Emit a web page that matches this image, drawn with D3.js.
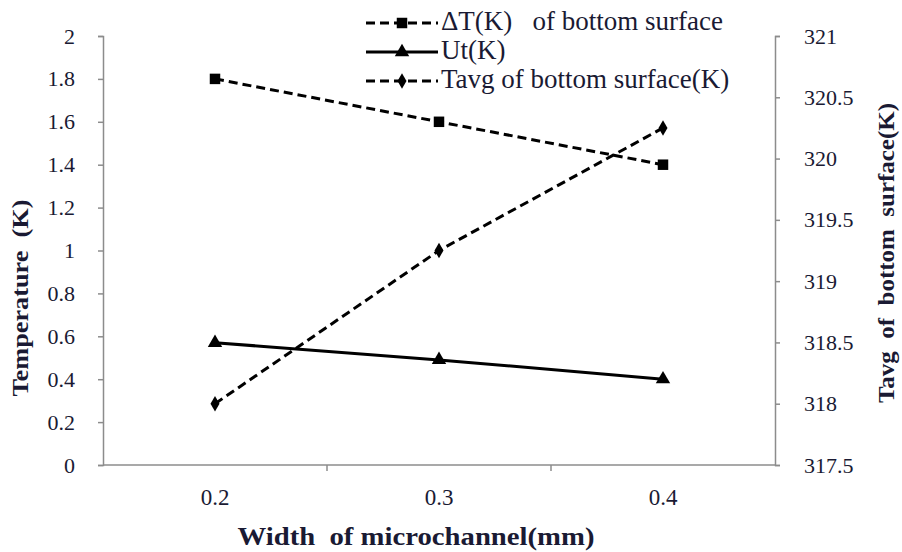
<!DOCTYPE html>
<html>
<head>
<meta charset="utf-8">
<script src="https://cdn.jsdelivr.net/npm/d3@7"></script>
<style>
  body { margin: 0; background: #fff; }
</style>
</head>
<body>
<div class="chart"></div>
<script>
// data
const widths = ['0.2', '0.3', '0.4'];
const deltaT = [1.8, 1.6, 1.4];
const ut = [0.57, 0.49, 0.40];
const tavg = [318.0, 319.25, 320.25];
const leftTicks = [0, 0.2, 0.4, 0.6, 0.8, 1, 1.2, 1.4, 1.6, 1.8, 2];
const rightTicks = [317.5, 318, 318.5, 319, 319.5, 320, 320.5, 321];

const width = 902;
const height = 552;
const plot = { left: 103, right: 775, top: 36, bottom: 465 };
const axisColor = '#8c8c8c';
const font = "'Liberation Serif', 'Times New Roman', serif";
const textColor = '#1a1a33';

const svg = d3.select('.chart').append('svg').attr('width', width).attr('height', height);

const xScale = d3.scaleBand().domain(widths).range([plot.left, plot.right]);
const yLeft = d3.scaleLinear().domain([0, 2]).range([plot.bottom, plot.top]);
const yRight = d3.scaleLinear().domain([317.5, 321]).range([plot.bottom, plot.top]);
const cx = (d) => xScale(d) + xScale.bandwidth() / 2;

const txt = (sel, size, bold) =>
  sel
    .attr('font-family', font)
    .attr('font-size', size)
    .attr('font-weight', bold ? 'bold' : 'normal')
    .attr('fill', textColor)
    .style('white-space', 'pre');

// axes
const styleAxis = (g) => {
  g.attr('font-family', font);
  g.select('.domain').attr('stroke', axisColor).attr('stroke-width', 1.5);
  g.selectAll('.tick line').attr('stroke', axisColor).attr('stroke-width', 1.5);
  g.selectAll('text').call(txt, 22, false);
};

svg
  .append('g')
  .attr('transform', `translate(${plot.left},0)`)
  .call(d3.axisLeft(yLeft).tickValues(leftTicks).tickSize(5).tickSizeOuter(5).tickPadding(23).tickFormat(d3.format('')))
  .call(styleAxis);

svg
  .append('g')
  .attr('transform', `translate(${plot.right},0)`)
  .call(d3.axisRight(yRight).tickValues(rightTicks).tickSize(5).tickSizeOuter(5).tickPadding(24).tickFormat(d3.format('')))
  .call(styleAxis);

const xAxis = svg.append('g').attr('transform', `translate(0,${plot.bottom})`);
xAxis
  .append('line')
  .attr('x1', plot.left)
  .attr('x2', plot.right)
  .attr('stroke', axisColor)
  .attr('stroke-width', 1.5);
xAxis
  .selectAll('.btick')
  .data(widths.slice(1))
  .join('line')
  .attr('x1', (d) => xScale(d))
  .attr('x2', (d) => xScale(d))
  .attr('y1', 0)
  .attr('y2', 6)
  .attr('stroke', axisColor)
  .attr('stroke-width', 1.5);
xAxis
  .selectAll('text')
  .data(widths)
  .join('text')
  .attr('x', (d) => cx(d))
  .attr('y', 40)
  .attr('text-anchor', 'middle')
  .call(txt, 23, false)
  .text((d) => d);

// axis titles
svg
  .append('text')
  .attr('x', 416)
  .attr('y', 545)
  .attr('text-anchor', 'middle')
  .call(txt, 26, true)
  .attr('textLength', 357)
  .attr('lengthAdjust', 'spacingAndGlyphs')
  .text('Width  of microchannel(mm)');

svg
  .append('text')
  .attr('transform', 'translate(28,298) rotate(-90)')
  .attr('text-anchor', 'middle')
  .call(txt, 23, true)
  .attr('textLength', 197)
  .attr('lengthAdjust', 'spacingAndGlyphs')
  .text('Temperature  (K)');

svg
  .append('text')
  .attr('transform', 'translate(894,253) rotate(-90)')
  .attr('text-anchor', 'middle')
  .call(txt, 23, true)
  .attr('textLength', 300)
  .attr('lengthAdjust', 'spacingAndGlyphs')
  .text('Tavg  of  bottom  surface(K)');

// series
const series = [
  { label: 'ΔT(K)   of bottom surface', values: deltaT, scale: yLeft, dash: '9,5', symbol: d3.symbolSquare, size: 110 },
  { label: 'Ut(K)', values: ut, scale: yLeft, dash: null, symbol: d3.symbolTriangle, size: 90 },
  { label: 'Tavg of bottom surface(K)', values: tavg, scale: yRight, dash: '9,5', symbol: d3.symbolDiamond, size: 70 },
];

const line = d3.line();

series.forEach((s) => {
  const pts = s.values.map((v, i) => [cx(widths[i]), s.scale(v)]);
  svg
    .append('path')
    .attr('d', line(pts))
    .attr('fill', 'none')
    .attr('stroke', '#000')
    .attr('stroke-width', 3)
    .attr('stroke-dasharray', s.dash);
  svg
    .selectAll(null)
    .data(pts)
    .join('path')
    .attr('transform', (p) => `translate(${p[0]},${p[1]})`)
    .attr('d', d3.symbol().type(s.symbol).size(s.size))
    .attr('fill', '#000');
});

// legend
const legendRows = [23, 52, 81];
series.forEach((s, i) => {
  const y = legendRows[i];
  const g = svg.append('g');
  g.append('line')
    .attr('x1', 366)
    .attr('x2', 438)
    .attr('y1', y)
    .attr('y2', y)
    .attr('stroke', '#000')
    .attr('stroke-width', 3)
    .attr('stroke-dasharray', s.dash);
  g.append('path')
    .attr('transform', `translate(402,${y})`)
    .attr('d', d3.symbol().type(s.symbol).size(s.size))
    .attr('fill', '#000');
  g.append('text')
    .attr('x', 441)
    .attr('y', y + 7)
    .call(txt, 27, false)
    .text(s.label);
});
</script>
</body>
</html>
